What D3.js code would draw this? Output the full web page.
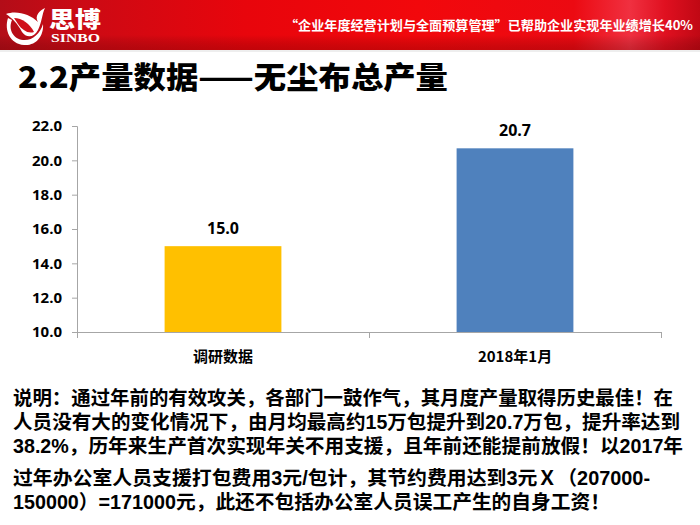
<!DOCTYPE html>
<html><head><meta charset="utf-8">
<script src="https://cdn.jsdelivr.net/npm/d3@7"></script>
<style>
html,body{margin:0;padding:0;background:#fff;}
svg{display:block;}
</style></head>
<body>
<svg id="c" width="700" height="525"></svg>
<script>
// ---- data ----
const categories = ["调研数据", "2018年1月"];
const values = [15.0, 20.7];
const barColors = ["#FFC000", "#4F81BD"];
const yTicks = [10, 12, 14, 16, 18, 20, 22];
const titleText = "2.2产量数据——无尘布总产量";
const sloganText = "“企业年度经营计划与全面预算管理”已帮助企业实现年业绩增长40%";
const noteLines = [
  "说明：通过年前的有效攻关，各部门一鼓作气，其月度产量取得历史最佳！在",
  "人员没有大的变化情况下，由月均最高约15万包提升到20.7万包，提升率达到",
  "38.2%，历年来生产首次实现年关不用支援，且年前还能提前放假！以2017年",
  "过年办公室人员支援打包费用3元/包计，其节约费用达到3元Ｘ（207000-",
  "150000）=171000元，此还不包括办公室人员误工产生的自身工资！"
];

const svg = d3.select("#c");
const CJK = "'Noto Sans CJK SC','Noto Sans',sans-serif";
const TIGHT = "'Liberation Sans','Noto Sans CJK SC',sans-serif";

// ---- header band ----
const defs = svg.append("defs");
const g1 = defs.append("linearGradient").attr("id","hdr").attr("x1",0).attr("x2",1).attr("y1",0).attr("y2",0);
[[0,"#b30d18"],[0.12,"#cc0a14"],[0.35,"#e8050c"],[0.6,"#f2080c"],[0.82,"#ec0a12"],[0.9,"#f03040"],[0.95,"#e01020"],[1,"#c00814"]]
  .forEach(([o,c])=>g1.append("stop").attr("offset",o).attr("stop-color",c));
const g2 = defs.append("linearGradient").attr("id","hdrv").attr("x1",0).attr("x2",0).attr("y1",0).attr("y2",1);
[[0,"rgba(0,0,0,0)"],[0.7,"rgba(0,0,0,0)"],[1,"rgba(80,0,0,0.25)"]]
  .forEach(([o,c])=>g2.append("stop").attr("offset",o).attr("stop-color",c));
svg.append("rect").attr("x",0).attr("y",0).attr("width",700).attr("height",50).attr("fill","url(#hdr)");
svg.append("rect").attr("x",0).attr("y",0).attr("width",700).attr("height",50).attr("fill","url(#hdrv)");
svg.append("rect").attr("x",0).attr("y",50).attr("width",700).attr("height",2).attr("fill","#eee");

// logo
const logo = svg.append("g");
logo.append("path")
  .attr("d","M8,18 C4,30 10,44 24,45 C36,46 44,36 43,24 C40,34 32,41 23,40 C13,39 8,29 12,20 Z")
  .attr("fill","#fff");
logo.append("path")
  .attr("d","M6,14 C16,10 30,14 38,22 C34,16 40,10 45,8 C42,14 42,22 38,30 C34,38 26,38 22,32 C18,24 12,18 6,14 Z")
  .attr("fill","#fff");
logo.append("path")
  .attr("d","M14,18 C22,18 30,24 34,32 C28,34 22,30 18,24 Z")
  .attr("fill","#d0101a");
logo.append("text").attr("x",49).attr("y",27).attr("fill","#fff")
  .style("font-family",TIGHT).style("font-weight",900).style("font-size","22px")
  .attr("textLength",52).attr("lengthAdjust","spacingAndGlyphs").text("思博");
logo.append("text").attr("x",51).attr("y",42).attr("fill","#fff")
  .style("font-family","'Liberation Serif',serif").style("font-weight","bold").style("font-size","11.5px")
  .attr("textLength",49).attr("lengthAdjust","spacingAndGlyphs").text("SINBO");

svg.append("text").attr("x",285).attr("y",30).attr("fill","#fff")
  .style("font-family",CJK).style("font-weight","bold").style("font-size","13px")
  .attr("textLength",408).attr("lengthAdjust","spacingAndGlyphs").text(sloganText);

// ---- title ----
svg.append("text").attr("x",18).attr("y",88).attr("fill","#000")
  .style("font-family",CJK).style("font-weight",900).style("font-size","30px")
  .attr("textLength",430).attr("lengthAdjust","spacingAndGlyphs").text(titleText);

// ---- chart ----
const x = d3.scaleBand().domain(categories).range([77,661]).paddingInner(0).paddingOuter(0);
const y = d3.scaleLinear().domain([10,22]).range([332,126]);
const axisColor = "#a6a6a6";

const yAxis = svg.append("g").attr("transform","translate(77,0)")
  .call(d3.axisLeft(y).tickValues(yTicks).tickFormat(d3.format(".1f")).tickSize(5).tickPadding(10));
yAxis.select(".domain").attr("stroke",axisColor);
yAxis.selectAll(".tick line").attr("stroke",axisColor);
yAxis.selectAll(".tick text").attr("fill","#000")
  .style("font-family","'Open Sans','Noto Sans',sans-serif").style("font-weight","bold").style("font-size","15px");

// bars
const bw = x.bandwidth()*0.4;
svg.append("g").selectAll("rect").data(categories).join("rect")
  .attr("x",d=>x(d)+x.bandwidth()/2-bw/2)
  .attr("y",(d,i)=>y(values[i]))
  .attr("width",bw)
  .attr("height",(d,i)=>y(10)-y(values[i]))
  .attr("fill",(d,i)=>barColors[i]);

// x axis
const xAxis = svg.append("g").attr("transform","translate(0,332)")
  .call(d3.axisBottom(x).tickSize(0).tickPadding(19));
xAxis.select(".domain").remove();
xAxis.selectAll(".tick text").attr("fill","#000")
  .style("font-family",CJK).style("font-weight","bold").style("font-size","15px");
svg.append("line").attr("x1",x.range()[0]).attr("x2",x.range()[1]).attr("y1",332.5).attr("y2",332.5)
  .attr("stroke",axisColor);
const bounds = categories.map(d=>x(d)).concat([x.range()[1]]);
svg.append("g").selectAll("line").data(bounds).join("line")
  .attr("x1",d=>d+0.5).attr("x2",d=>d+0.5).attr("y1",332).attr("y2",338)
  .attr("stroke",axisColor);

// value labels
svg.append("g").selectAll("text").data(categories).join("text")
  .attr("x",d=>x(d)+x.bandwidth()/2)
  .attr("y",(d,i)=>y(values[i])-12)
  .attr("text-anchor","middle").attr("fill","#000")
  .style("font-family","'Open Sans','Noto Sans',sans-serif").style("font-weight","bold").style("font-size","16px")
  .text((d,i)=>d3.format(".1f")(values[i]));

// ---- note text ----
const noteY = [405, 429, 453, 485, 509];
const noteW = [660, 667, 670, 637, 597];
svg.append("g").selectAll("text").data(noteLines).join("text")
  .attr("x",13).attr("y",(d,i)=>noteY[i])
  .attr("textLength",(d,i)=>noteW[i]).attr("lengthAdjust","spacingAndGlyphs")
  .attr("fill","#000")
  .style("font-family",TIGHT).style("font-weight","bold").style("font-size","19.5px")
  .text(d=>d);
</script>
</body></html>
